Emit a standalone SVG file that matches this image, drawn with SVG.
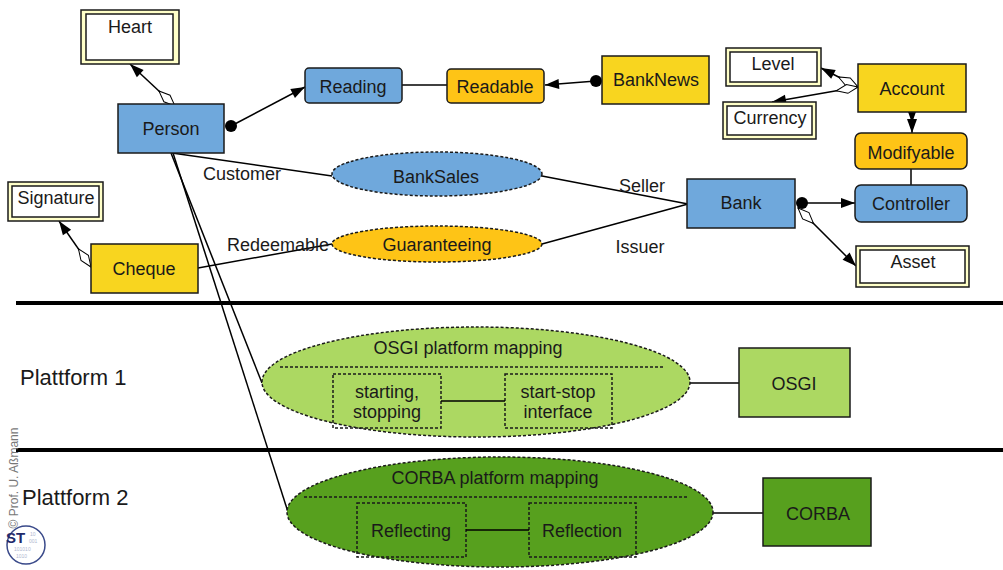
<svg xmlns="http://www.w3.org/2000/svg" width="1003" height="570" viewBox="0 0 1003 570">
<defs>
<style>
text{font-family:"Liberation Sans",Arial,sans-serif;font-size:18px;fill:#1a1a1a;text-anchor:middle;dominant-baseline:central}
.blue{fill:#6fa8dc;stroke:#1a1a1a;stroke-width:1.5}
.yel{fill:#f8d51f;stroke:#1a1a1a;stroke-width:1.5}
.org{fill:#fec416;stroke:#1a1a1a;stroke-width:1.5}
.outer{fill:#ffffc8;stroke:#1a1a1a;stroke-width:1.5}
.inner{fill:#fff;stroke:#1a1a1a;stroke-width:1.5}
.dash{fill:none;stroke:#1a1a1a;stroke-width:1.5;stroke-dasharray:3,2}
.ln{fill:none;stroke:#000;stroke-width:1.5}
.rule{stroke:#000;stroke-width:4}
.bin{font-size:5px;fill:#b0b8d0;text-anchor:start}
</style>
<marker id="arr" viewBox="-1 -6 16 12" refX="14" refY="0" markerWidth="16" markerHeight="12" markerUnits="userSpaceOnUse" orient="auto"><path d="M0,-5 L14,0 L0,5 Z" fill="#000"/></marker>
<marker id="dia" viewBox="-1 -6 25 12" refX="0" refY="0" markerWidth="25" markerHeight="12" markerUnits="userSpaceOnUse" orient="auto"><path d="M0,0 L11,-4.5 L22,0 L11,4.5 Z" fill="#fff" stroke="#000" stroke-width="1"/></marker>
<marker id="dot" viewBox="-7 -7 14 14" refX="0" refY="0" markerWidth="14" markerHeight="14" markerUnits="userSpaceOnUse"><circle r="6" fill="#000"/></marker>
</defs>

<g id="rules">
<line class="rule" x1="16" y1="303" x2="1003" y2="303"/>
<line class="rule" x1="16" y1="450" x2="1003" y2="450"/>
</g>

<g id="connectors">
<line class="ln" x1="175" y1="106" x2="130" y2="64" marker-start="url(#dia)" marker-end="url(#arr)"/>
<line class="ln" x1="231" y1="126" x2="305" y2="87" marker-start="url(#dot)" marker-end="url(#arr)"/>
<line class="ln" x1="402" y1="85" x2="447" y2="85"/>
<line class="ln" x1="596" y1="81" x2="545" y2="85" marker-start="url(#dot)" marker-end="url(#arr)"/>
<line class="ln" x1="858" y1="87" x2="821" y2="68" marker-start="url(#dia)" marker-end="url(#arr)"/>
<line class="ln" x1="858" y1="87" x2="772" y2="102" marker-start="url(#dia)" marker-end="url(#arr)"/>
<line class="ln" x1="912" y1="112" x2="912" y2="123" marker-end="url(#arr)"/>
<line class="ln" x1="912" y1="120" x2="912" y2="133" marker-end="url(#arr)"/>
<line class="ln" x1="911" y1="169" x2="911" y2="185"/>
<line class="ln" x1="802" y1="203" x2="855" y2="203" marker-start="url(#dot)" marker-end="url(#arr)"/>
<line class="ln" x1="798" y1="208" x2="856" y2="266" marker-start="url(#dia)" marker-end="url(#arr)"/>
<line class="ln" x1="91" y1="267" x2="59" y2="221" marker-start="url(#dia)" marker-end="url(#arr)"/>
<line class="ln" x1="172" y1="153" x2="332" y2="176"/>
<line class="ln" x1="542" y1="176" x2="688" y2="204"/>
<line class="ln" x1="198" y1="268" x2="332" y2="244"/>
<line class="ln" x1="542" y1="244" x2="688" y2="204"/>
<line class="ln" x1="171" y1="153" x2="262" y2="383"/>
<line class="ln" x1="173" y1="153" x2="288" y2="512"/>
<line class="ln" x1="690" y1="383" x2="739" y2="383"/>
<line class="ln" x1="713" y1="513" x2="763" y2="513"/>
<text x="242" y="174">Customer</text>
<text x="642" y="186">Seller</text>
<text x="278" y="245">Redeemable</text>
<text x="640" y="247">Issuer</text>
</g>

<g id="Heart"><rect class="outer" x="81" y="10" width="98" height="54"/><rect class="inner" x="86" y="14" width="87" height="46"/><text x="130" y="27">Heart</text></g>
<g id="Person"><rect class="blue" x="118" y="104" width="106" height="49"/><text x="171" y="129">Person</text></g>
<g id="Reading"><rect class="blue" x="305" y="68" width="97" height="35" rx="4"/><text x="353" y="87">Reading</text></g>
<g id="Readable"><rect class="org" x="447" y="69" width="97" height="34" rx="4"/><text x="495" y="87">Readable</text></g>
<g id="BankNews"><rect class="yel" x="602" y="56" width="107" height="48"/><text x="656" y="80">BankNews</text></g>
<g id="Level"><rect class="outer" x="726" y="48" width="95" height="38"/><rect class="inner" x="730" y="52" width="87" height="30"/><text x="773" y="64">Level</text></g>
<g id="Currency"><rect class="outer" x="723" y="102" width="93" height="37"/><rect class="inner" x="727" y="106" width="85" height="29"/><text x="770" y="118">Currency</text></g>
<g id="Account"><rect class="yel" x="858" y="64" width="108" height="48"/><text x="912" y="89">Account</text></g>
<g id="Modifyable"><rect class="org" x="855" y="133" width="112" height="36" rx="6"/><text x="911" y="153">Modifyable</text></g>
<g id="Controller"><rect class="blue" x="855" y="185" width="112" height="37" rx="6"/><text x="911" y="204">Controller</text></g>
<g id="Bank"><rect class="blue" x="687" y="179" width="108" height="49"/><text x="741" y="203">Bank</text></g>
<g id="Asset"><rect class="outer" x="856" y="246" width="113" height="41"/><rect class="inner" x="860" y="250" width="105" height="33"/><text x="913" y="262">Asset</text></g>
<g id="Signature"><rect class="outer" x="8" y="182" width="95" height="39"/><rect class="inner" x="12" y="186" width="87" height="31"/><text x="56" y="198">Signature</text></g>
<g id="Cheque"><rect class="yel" x="91" y="244" width="107" height="49"/><text x="144" y="269">Cheque</text></g>
<g id="BankSales"><ellipse cx="437" cy="174" rx="105" ry="22" fill="#6fa8dc"/><ellipse class="dash" cx="437" cy="174" rx="105" ry="22"/><text x="436" y="177">BankSales</text></g>
<g id="Guaranteeing"><ellipse cx="437" cy="244" rx="105" ry="18" fill="#fec416"/><ellipse class="dash" cx="437" cy="244" rx="105" ry="18"/><text x="437" y="245">Guaranteeing</text></g>

<g id="OSGImapping">
<ellipse cx="476" cy="382" rx="214" ry="55" fill="#acd862"/><ellipse class="dash" cx="476" cy="382" rx="214" ry="55"/>
<text x="468" y="348">OSGI platform mapping</text>
<line class="dash" x1="280" y1="367" x2="665" y2="367"/>
<rect class="dash" x="333" y="374" width="108" height="54"/>
<text x="387" y="392">starting,</text><text x="387" y="412">stopping</text>
<rect class="dash" x="505" y="374" width="107" height="54"/>
<text x="558" y="392">start-stop</text><text x="558" y="412">interface</text>
<line class="ln" x1="441" y1="401" x2="505" y2="401"/>
</g>
<g id="OSGI"><rect x="739" y="348" width="111" height="69" fill="#acd862" stroke="#1a1a1a" stroke-width="1.5"/><text x="794" y="384">OSGI</text></g>

<g id="CORBAmapping">
<ellipse cx="500" cy="512" rx="213" ry="55" fill="#57a01e"/><ellipse class="dash" cx="500" cy="512" rx="213" ry="55"/>
<text x="495" y="478">CORBA platform mapping</text>
<line class="dash" x1="304" y1="497" x2="689" y2="497"/>
<rect class="dash" x="357" y="503" width="109" height="54"/>
<text x="411" y="531">Reflecting</text>
<rect class="dash" x="529" y="503" width="107" height="54"/>
<text x="582" y="531">Reflection</text>
<line class="ln" x1="466" y1="530" x2="529" y2="530"/>
</g>
<g id="CORBA"><rect x="763" y="478" width="108" height="68" fill="#57a01e" stroke="#1a1a1a" stroke-width="1.5"/><text x="818" y="514">CORBA</text></g>

<g id="labels">
<text x="20" y="377" style="font-size:22px;text-anchor:start">Plattform 1</text>
<text x="22" y="497" style="font-size:22px;text-anchor:start">Plattform 2</text>
<text transform="translate(14,478) rotate(-90)" style="font-size:12px;fill:#777">© Prof. U. Aßmann</text>
</g>

<g id="logo">
<circle cx="26" cy="545" r="19" fill="#fff" stroke="#3a4a8a" stroke-width="1.5"/>
<text x="6" y="537" style="font-size:15px;font-weight:bold;fill:#1f2a6b;text-anchor:start">ST</text>
<text class="bin" x="30" y="534">10</text>
<text class="bin" x="29" y="541">001</text>
<text class="bin" x="14" y="549">101010</text>
<text class="bin" x="16" y="556">1010</text>
</g>
</svg>
